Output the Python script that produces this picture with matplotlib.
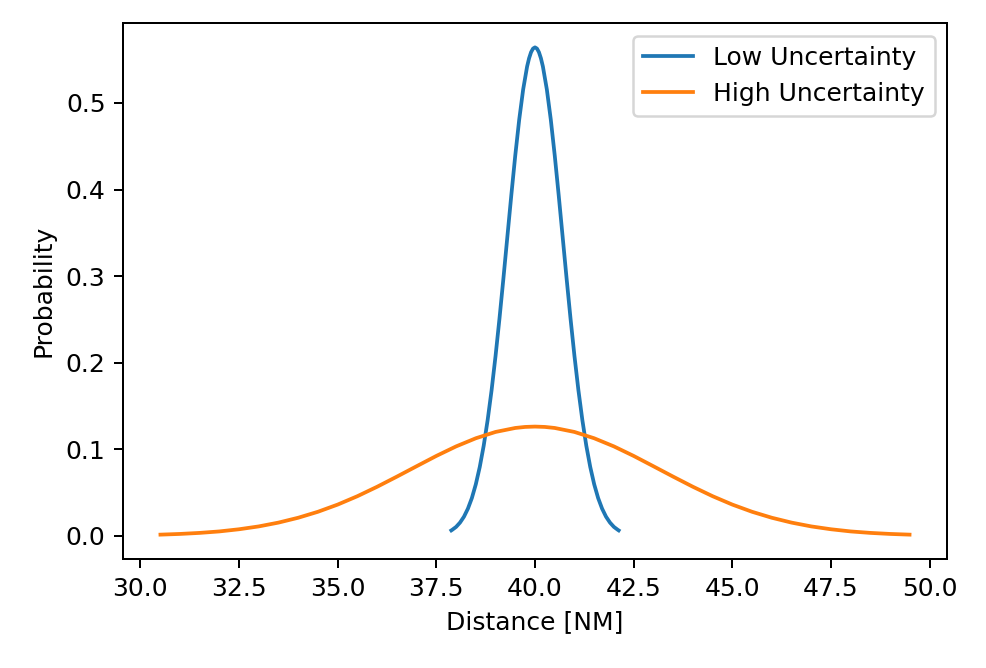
import matplotlib
matplotlib.use("Agg")
import matplotlib.pyplot as plt

# values
low_x = [37.88, 37.9, 38.0, 38.1, 38.2, 38.3, 38.4, 38.5, 38.6, 38.7, 38.8, 38.9,
         39.0, 39.1, 39.2, 39.3, 39.4, 39.5, 39.6, 39.7, 39.8, 39.85, 39.9, 39.95,
         40.0,
         40.05, 40.1, 40.15, 40.2, 40.3, 40.4, 40.5, 40.6, 40.7, 40.8, 40.9, 41.0,
         41.1, 41.2, 41.3, 41.4, 41.5, 41.6, 41.7, 41.8, 41.9, 42.0, 42.1, 42.12]
low_y = [0.0063, 0.0069, 0.0103, 0.0153, 0.0221, 0.0314, 0.0436, 0.0595, 0.0795,
         0.1041, 0.1337, 0.1682, 0.2076, 0.2510, 0.2975, 0.3456, 0.3936, 0.4394,
         0.4808, 0.5156, 0.5421, 0.5516, 0.5586, 0.5628,
         0.5642,
         0.5628, 0.5586, 0.5516, 0.5421, 0.5156, 0.4808, 0.4394, 0.3936, 0.3456,
         0.2975, 0.2510, 0.2076, 0.1682, 0.1337, 0.1041, 0.0795, 0.0595, 0.0436,
         0.0314, 0.0221, 0.0153, 0.0103, 0.0069, 0.0063]

high_x = [30.51, 31.0, 31.5, 32.0, 32.5, 33.0, 33.5, 34.0, 34.5, 35.0, 35.5,
          36.0, 36.5, 37.0, 37.5, 38.0, 38.5, 39.0, 39.5, 39.75, 40.0, 40.25,
          40.5, 41.0, 41.5, 42.0, 42.5, 43.0, 43.5, 44.0, 44.5, 45.0,
          45.5, 46.0, 46.5, 47.0, 47.5, 48.0, 48.5, 49.0, 49.49]
high_y = [0.0014, 0.0022, 0.0034, 0.0051, 0.0076, 0.0109, 0.0153, 0.0209, 0.0278,
          0.0361, 0.0458, 0.0567, 0.0684, 0.0804, 0.0923, 0.1033, 0.1127, 0.1200,
          0.1246, 0.1258, 0.1262, 0.1258,
          0.1246, 0.1200, 0.1127, 0.1033, 0.0923, 0.0804, 0.0684, 0.0567, 0.0458,
          0.0361, 0.0278, 0.0209, 0.0153, 0.0109, 0.0076, 0.0051, 0.0034, 0.0022,
          0.0014]

DPI = 180
fig = plt.figure(figsize=(986 / DPI, 668 / DPI), dpi=DPI)
ax = fig.add_axes([123 / 986, 1 - 559 / 668, (947 - 123) / 986, (559 - 23) / 668])

ax.plot(low_x, low_y, label="Low Uncertainty")
ax.plot(high_x, high_y, label="High Uncertainty")

ax.set_xlabel("Distance [NM]")
ax.set_ylabel("Probability")
ax.legend(loc="upper right")

fig.savefig("out.png", dpi=DPI)
